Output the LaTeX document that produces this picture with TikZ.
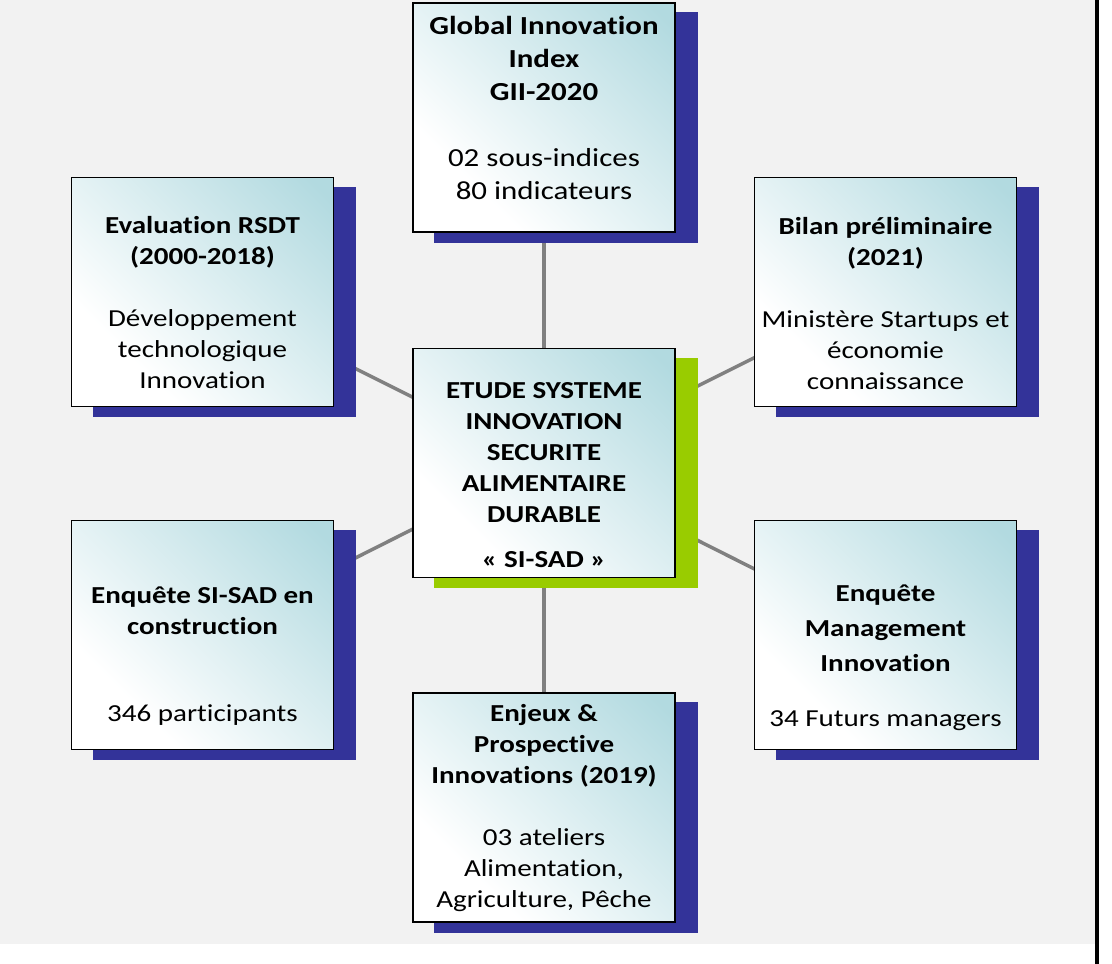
\documentclass[tikz,border=0pt]{standalone}
\usepackage{fontspec}
\setmainfont{Carlito}[FakeStretch=1.19,Ligatures=NoCommon]
\usetikzlibrary{positioning}
\usetikzlibrary{backgrounds}

\definecolor{bggray}{HTML}{F2F2F2}
\definecolor{shadowblue}{HTML}{333399}
\definecolor{sisadgreen}{HTML}{99CC00}
\definecolor{boxteal}{HTML}{B2DAE0}
\definecolor{linkgray}{HTML}{808080}
\pgfdeclareverticalshading{boxshade}{100bp}{color(0bp)=(white); color(30bp)=(white); color(82bp)=(boxteal); color(100bp)=(boxteal)}

\begin{document}
\begin{tikzpicture}[x=1pt,y=1pt,
  box/.style={rectangle,draw=black,line width=1.5pt,minimum width=262pt,minimum height=229pt,
    shading=boxshade,shading angle=-45},
  txt/.style={align=center,font=\fontsize{24.4}{31}\selectfont}]
\useasboundingbox (0,0) rectangle (1112,-964);

\node[box] (sisad) at (544,-463) {};
\node[box,above=115pt of sisad] (gii) {};
\node[box,below=114pt of sisad] (enjeux) {};
\node[box,left=78pt of sisad,yshift=171pt] (rsdt) {};
\node[box,right=78pt of sisad,yshift=171pt] (bilan) {};
\node[box,left=78pt of sisad,yshift=-172pt] (enquete) {};
\node[box,right=78pt of sisad,yshift=-172pt] (manag) {};

\node[txt,yshift=-12pt] (sisad-txt) at (sisad) {\textbf{ETUDE SYSTEME}\\\textbf{INNOVATION}\\\textbf{SECURITE}\\\textbf{ALIMENTAIRE}\\\textbf{DURABLE}\\[14pt]\textbf{« SI-SAD »}};
\node[txt,font=\fontsize{26}{33}\selectfont,yshift=10pt] (gii-txt) at (gii) {\textbf{Global Innovation}\\\textbf{Index}\\\textbf{GII-2020}\\[33pt]02 sous-indices\\80 indicateurs};
\node[txt,yshift=-11pt] (rsdt-txt) at (rsdt) {\textbf{Evaluation RSDT}\\\textbf{(2000-2018)}\\[31pt]Développement\\technologique\\Innovation};
\node[txt,yshift=-12pt] (bilan-txt) at (bilan) {\textbf{Bilan préliminaire}\\\textbf{(2021)}\\[31pt]Ministère Startups et\\économie\\connaissance};
\node[txt,yshift=-21pt] (enquete-txt) at (enquete) {\textbf{Enquête SI-SAD en}\\\textbf{construction}\\[56pt]346 participants};
\node[txt,yshift=-22.5pt] (manag-txt) at (manag) {\textbf{Enquête}\\[4pt]\textbf{Management}\\[4pt]\textbf{Innovation}\\[24pt]34 Futurs managers};
\node[txt,yshift=-1pt] (enjeux-txt) at (enjeux) {\textbf{Enjeux \&}\\\textbf{Prospective}\\\textbf{Innovations (2019)}\\[31pt]03 ateliers\\Alimentation,\\Agriculture, Pêche};

\begin{scope}[on background layer]
\fill[bggray] (0,0) rectangle (1095,-944);
\fill[black] (1095,0) rectangle (1099,-964);
% links behind the shadows
\foreach \b in {gii,rsdt,bilan,enquete,manag,enjeux}
  \draw[linkgray,line width=3.5pt] (sisad.center) -- (\b.center);
\foreach \b in {gii,rsdt,bilan,enquete,manag,enjeux}
  \fill[shadowblue] ([shift={(22,-10)}]\b.south west) rectangle ([shift={(22,-10)}]\b.north east);
\fill[sisadgreen] ([shift={(22,-10)}]sisad.south west) rectangle ([shift={(22,-10)}]sisad.north east);
\end{scope}
\end{tikzpicture}
\end{document}
